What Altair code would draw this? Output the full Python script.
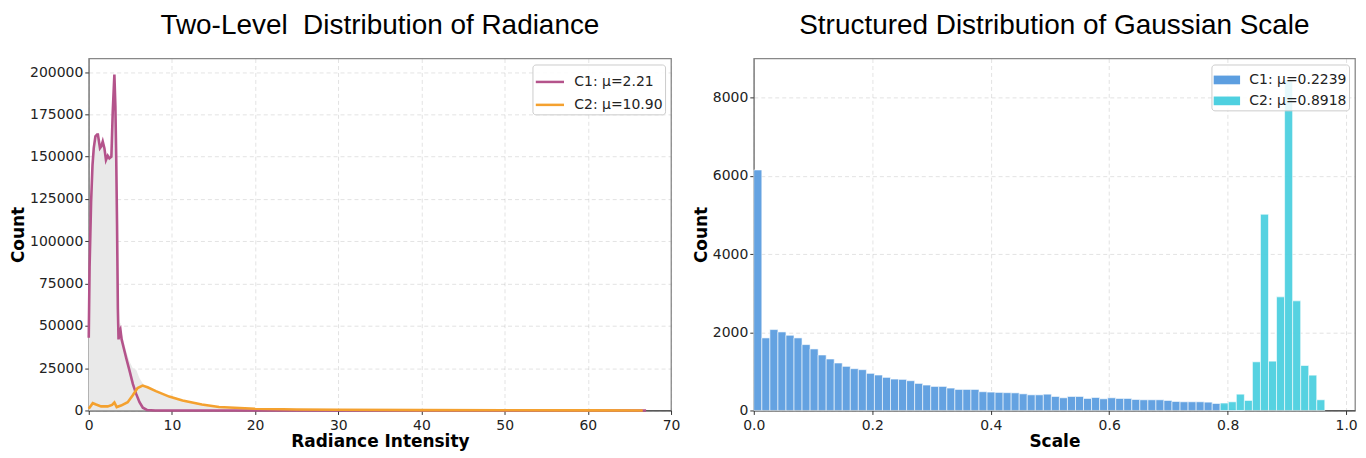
import altair as alt
import pandas as pd
import numpy as np

# ---------------- Left panel: Radiance ----------------
left_title = "Two-Level \u00a0Distribution of Radiance"
left_labels = ["C1: μ=2.21", "C2: μ=10.90"]
left_colors = ["#b4538b", "#f4a12f"]

c1_x = [0, 0.1, 0.28, 0.45, 0.6, 0.8, 1.0, 1.1, 1.35, 1.5, 1.68, 1.88, 2.07, 2.28, 2.48, 2.72,
        2.88, 3.08, 3.2, 3.3, 3.4, 3.5, 3.58, 3.7, 3.8, 3.95, 4.1, 4.5, 4.9, 5.3, 5.7, 6.1,
        6.5, 7.0, 8, 10, 20, 30, 40, 50, 60, 67]
c1_y = [43000, 85000, 123000, 145000, 155000, 162000, 163000, 163000, 155000, 156000, 159000,
        155000, 148000, 150500, 149000, 150000, 176000, 198500, 180000, 150000, 110000, 60000,
        42000, 47000, 48000, 42000, 39000, 31000, 23500, 15700, 9800, 4900, 1600, 300, 0, 0,
        0, 0, 0, 0, 0, 0]

c2_x = [0, 0.48, 0.88, 1.48, 2.28, 2.8, 3.08, 3.36, 3.88, 4.68, 5.27, 5.87, 6.47, 7.07, 8.07,
        9.67, 11.27, 13.6, 15.66, 20, 25, 30, 40, 50, 60, 66.6]
c2_y = [1000, 4300, 3500, 2400, 2400, 3300, 4700, 2000, 2900, 4900, 8800, 13300, 14700, 13700,
        11400, 8200, 5900, 3500, 2000, 1000, 600, 400, 200, 100, 50, 0]

grey_x = [0, 0.1, 0.28, 0.45, 0.6, 0.8, 1.0, 1.15, 1.35, 1.5, 1.68, 1.88, 2.07, 2.28, 2.48, 2.72,
          2.88, 3.08, 3.2, 3.3, 3.4, 3.5, 3.58, 3.7, 3.8, 3.95, 4.1, 4.5, 4.9, 5.3, 5.7, 6.1,
          6.5, 7.0, 8.0, 9.7, 11.3, 13.6, 15.7, 20, 25, 30, 40, 50, 60, 67]
grey_y = [44000, 88000, 125000, 148000, 157000, 163000, 164000, 164000, 157000, 158000, 160000,
          157000, 150000, 152000, 151000, 152000, 178000, 199000, 182000, 152000, 112000, 62000,
          46000, 51000, 52000, 46000, 43000, 35000, 29000, 25000, 24000, 19000, 16000, 14000,
          11600, 8400, 6100, 3700, 2100, 1100, 600, 400, 200, 100, 50, 0]

left_xticks = [0, 10, 20, 30, 40, 50, 60, 70]
left_yticks = [0, 25000, 50000, 75000, 100000, 125000, 150000, 175000, 200000]

# ---------------- Right panel: Gaussian scale ----------------
right_title = "Structured Distribution of Gaussian Scale"
right_labels = ["C1: μ=0.2239", "C2: μ=0.8918"]
right_colors = ["#5c9ee0", "#4ed0e0"]

bin_lo = 0.0
bin_hi = 0.964
n_bins = 71

blue_counts = [6150, 1855, 2068, 2008, 1923, 1855, 1684, 1573, 1419, 1316, 1214, 1128, 1068,
               1043, 949, 906, 846, 803, 795, 761, 692, 650, 615, 615, 573, 538, 538, 538, 479,
               470, 462, 455, 450, 425, 400, 400, 417, 358, 324, 358, 358, 307, 332, 298, 324,
               307, 307, 281, 273, 273, 273, 256, 230, 222, 222, 222, 213, 179, 145, 45, 12,
               0, 0, 0, 0, 0, 0, 0, 0, 0, 0]
cyan_counts = [0] * 58 + [190, 221, 417, 256, 1244, 5018, 1261, 2905, 8450, 2803, 1150, 903, 273]

right_xticks = [0.0, 0.2, 0.4, 0.6, 0.8, 1.0]
right_yticks = [0, 2000, 4000, 6000, 8000]

# ---------------- Build tables ----------------
grey_df = pd.DataFrame({"x": grey_x, "y": grey_y})
lines_df = pd.concat([
    pd.DataFrame({"x": c1_x, "y": c1_y, "series": left_labels[0], "k": 0}),
    pd.DataFrame({"x": c2_x, "y": c2_y, "series": left_labels[1], "k": 1}),
], ignore_index=True)

edges = np.linspace(bin_lo, bin_hi, n_bins + 1)
rows = []
for label, counts in ((right_labels[0], blue_counts), (right_labels[1], cyan_counts)):
    for i, c in enumerate(counts):
        if c > 0:
            rows.append({"x0": edges[i], "x1": edges[i + 1], "count": c, "series": label})
bars_df = pd.DataFrame(rows)

FONT = "DejaVu Sans"

legend_common = dict(title=None, orient="top-right", offset=6, labelFontSize=14,
                     labelFont=FONT, labelColor="#222222", labelOffset=9,
                     fillColor="rgba(255,255,255,0.85)", strokeColor="#cccccc",
                     cornerRadius=3)

lx = alt.X("x:Q", scale=alt.Scale(domain=[0, 70], nice=False, zero=False, padding=0),
           axis=alt.Axis(title="Radiance Intensity", values=left_xticks, format="d",
                         domainColor="#333333"))
ly = alt.Y("y:Q", scale=alt.Scale(domain=[0, 208000], nice=False, padding=0),
           axis=alt.Axis(title="Count", values=left_yticks, format="d", domainColor="#888888"))

grey = alt.Chart(grey_df).mark_area(color="#e9e9e9", opacity=1).encode(x=lx, y=ly)
lines = alt.Chart(lines_df).mark_line(strokeWidth=2.6).encode(
    x=lx, y=ly,
    color=alt.Color("series:N", scale=alt.Scale(domain=left_labels, range=left_colors),
                    legend=alt.Legend(symbolType="stroke", symbolSize=800,
                                      symbolStrokeWidth=2.5, padding=2, rowPadding=-6,
                                      **legend_common)),
    order="k:Q",
)

title_kw = dict(font="Liberation Sans", fontSize=28, fontWeight="normal", anchor="middle",
                offset=19, color="black")

left = alt.layer(grey, lines).properties(
    width=584, height=353, title=alt.TitleParams(left_title, **title_kw),
)

rx = alt.X("x0:Q", scale=alt.Scale(domain=[0, 1.015], nice=False, zero=False, padding=0),
           axis=alt.Axis(title="Scale", values=right_xticks, format=".1f",
                         domainColor="#333333"))
ry = alt.Y("count:Q", scale=alt.Scale(domain=[0, 9000], nice=False, padding=0),
           axis=alt.Axis(title="Count", values=right_yticks, format="d", domainColor="#888888"))

bars = alt.Chart(bars_df).mark_bar(stroke="white", strokeWidth=0.6, opacity=0.95).encode(
    x=rx, x2="x1:Q", y=ry, y2=alt.datum(0),
    color=alt.Color("series:N", scale=alt.Scale(domain=right_labels, range=right_colors),
                    legend=alt.Legend(symbolType="M-1,-0.33H1V0.33H-1Z", symbolSize=700,
                                      symbolStrokeWidth=0, symbolOpacity=1,
                                      padding=2, rowPadding=-3, **legend_common)),
)

right = bars.properties(
    width=603, height=353, title=alt.TitleParams(right_title, **title_kw),
)

chart = alt.hconcat(left, right, spacing=83, bounds="flush").resolve_scale(
    color="independent"
).configure(
    padding={"left": 0, "top": 2, "right": 0, "bottom": 0},
).configure_view(
    stroke="#888888", strokeWidth=1.3,
).configure_axis(
    labelFont=FONT, labelFontSize=14, labelColor="#222222", labelFlush=False,
    titleFont=FONT, titleFontSize=17, titleFontWeight="bold", titleColor="black",
    grid=True, gridColor="#888888", gridOpacity=0.3, gridDash=[4, 3], gridWidth=0.8,
    tickColor="#333333", tickSize=4, labelPadding=2, titlePadding=2,
).configure_axisX(labelPadding=4, titlePadding=1).configure_axisY(titlePadding=2)

chart.save("out.html", embed_options={"renderer": "svg", "actions": False})
